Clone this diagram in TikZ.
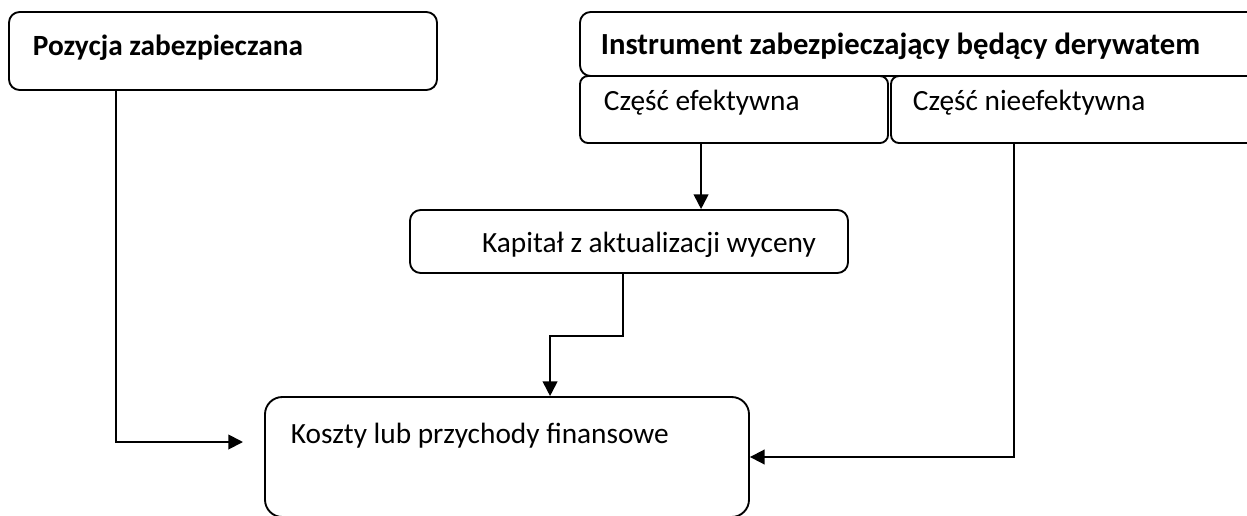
\documentclass[tikz,border=0pt]{standalone}
\usepackage{fontspec}
\setmainfont{Carlito}
\usetikzlibrary{arrows.meta}
\tikzset{every picture/.style={line width=1.4pt}}
\tikzset{
  box/.style={draw, inner sep=0pt, rounded corners=8pt},
  txt/.style={inner sep=0pt, font=\fontsize{22}{26}\selectfont},
  conn/.style={-{Triangle[length=11pt,width=11pt]}}
}

\begin{document}
\begin{tikzpicture}[x=0.75pt,y=0.75pt,yscale=-1,xscale=1]
\clip (0,0) rectangle (1247,515);

% Text Node
\node[box, minimum width=321pt, minimum height=58.5pt] (A) at (223,51) {};
\node[txt, anchor=base west, font=\fontsize{22}{26}\selectfont\bfseries] (tA) at (32,55) {Pozycja zabezpieczana};
% Text Node
\node[box, minimum width=510pt, minimum height=48pt] (B) at (920,44) {};
\node[txt, anchor=base west, font=\fontsize{23}{27}\selectfont\bfseries] (tB) at (600,54) {Instrument zabezpieczający będący derywatem};
% Text Node
\node[box, rounded corners=6pt, minimum width=231pt, minimum height=50.25pt] (C) at (734,109.5) {};
\node[txt, anchor=base west] (tC) at (603,110) {Część efektywna};
% Text Node
\node[box, rounded corners=6pt, minimum width=276.75pt, minimum height=50.25pt] (D) at (1075.5,109.5) {};
\node[txt, anchor=base west] (tD) at (912,110) {Część nieefektywna};
% Text Node
\node[box, minimum width=328.5pt, minimum height=47.25pt] (E) at (629,241.5) {};
\node[txt, anchor=base] (tE) at (649,252) {Kapitał z aktualizacji wyceny};
% Text Node
\node[box, rounded corners=13pt, minimum width=363pt, minimum height=90pt] (F) at (507,457) {};
\node[txt, anchor=base west] (tF) at (290,443) {Koszty lub przychody finansowe};

\coordinate (fin) at (243,442);

% Connection
\draw[conn] ([xshift=81pt]A.south west) |- (fin);
% Connection
\draw[conn] ([xshift=91.5pt]C.south west) coordinate (c1) -- (c1 |- E.north);
% Connection
\draw[conn] ([xshift=160.5pt]E.south west) -- ++(0,62) -| ([xshift=214.5pt]F.north west);
% Connection
\draw[conn] ([xshift=93pt]D.south west) |- (F.east);

\end{tikzpicture}
\end{document}
